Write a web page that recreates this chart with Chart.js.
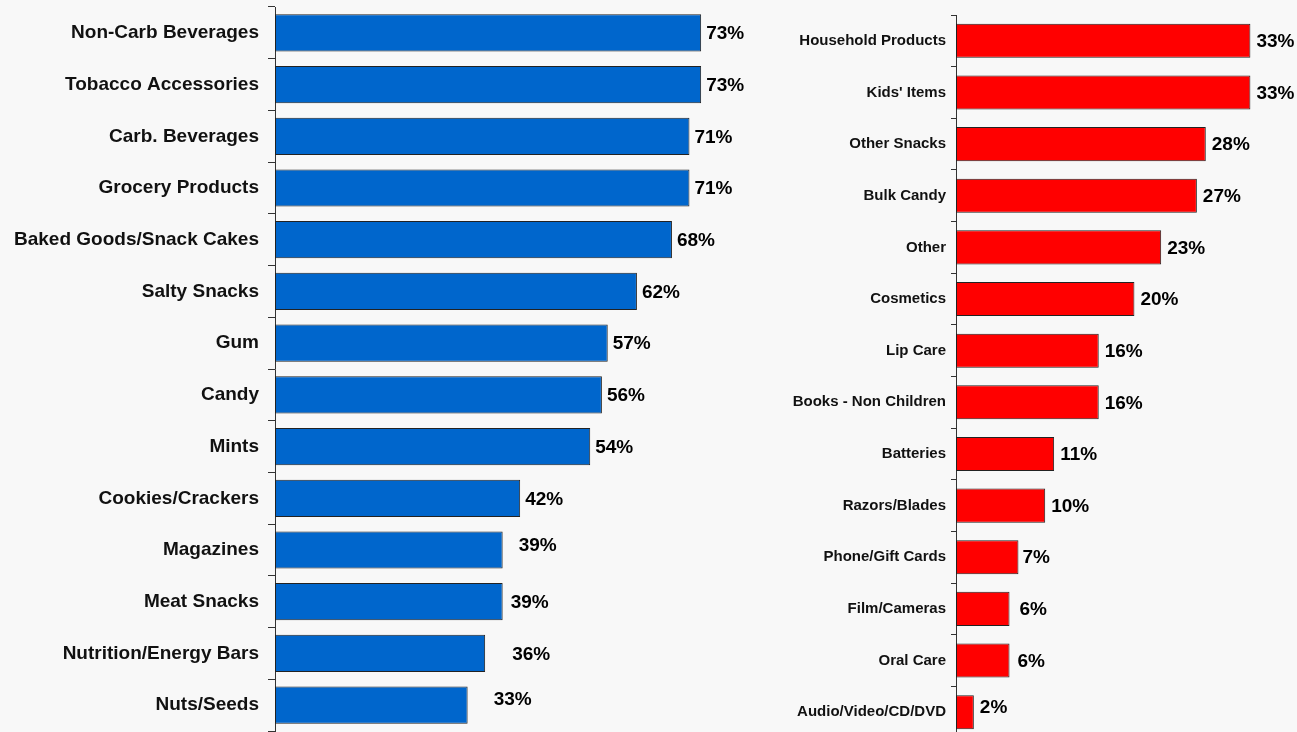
<!DOCTYPE html>
<html>
<head>
<meta charset="utf-8">
<script src="https://cdn.jsdelivr.net/npm/chart.js@4/dist/chart.umd.min.js"></script>
<style>
  html, body { margin: 0; padding: 0; background: #f8f8f8; overflow: hidden; }
  body { width: 1297px; height: 732px; position: relative; }
  .box { position: absolute; }
  #leftBox { left: 0; top: 0; width: 745px; height: 732px; }
  #rightBox { left: 760px; top: 0; width: 537px; height: 740px; }
</style>
</head>
<body>
<div class="box" id="leftBox"><canvas id="leftChart"></canvas></div>
<div class="box" id="rightBox"><canvas id="rightChart"></canvas></div>
<script>
const leftCategories = [
  'Non-Carb Beverages', 'Tobacco Accessories', 'Carb. Beverages', 'Grocery Products',
  'Baked Goods/Snack Cakes', 'Salty Snacks', 'Gum', 'Candy', 'Mints',
  'Cookies/Crackers', 'Magazines', 'Meat Snacks', 'Nutrition/Energy Bars', 'Nuts/Seeds'
];
const leftValues = [73, 73, 71, 71, 68, 62, 57, 56, 54, 42, 39, 39, 36, 33];

const rightCategories = [
  'Household Products', "Kids' Items", 'Other Snacks', 'Bulk Candy', 'Other',
  'Cosmetics', 'Lip Care', 'Books - Non Children', 'Batteries', 'Razors/Blades',
  'Phone/Gift Cards', 'Film/Cameras', 'Oral Care', 'Audio/Video/CD/DVD'
];
const rightValues = [33, 33, 28, 27, 23, 20, 16, 16, 11, 10, 7, 6, 6, 2];

// hand-placed label nudges (px) on top of the default gap after each bar
const leftNudgeX = [0, 0, 0, 0, 0, 0, 0, 0, 0, 0, 11, 3, 22, 21];
const leftNudgeY = [0, 0, 0, 0, 0, 0, 0, 0, 0, 0, -5, 0, 0, -6];
const rightNudgeX = [0, 0, 0, 0, 0, 0, 0, 0, 0, 0, -2, 4, 2, 0];
const rightNudgeY = [0, 0, 0, 0, 0, 0, 0, 0, 0, 0, 0, 0, 0, -5];

const FONT = '"Liberation Sans", Arial, Helvetica, sans-serif';

// draws "NN%" to the right of every bar
const valueLabels = {
  id: 'valueLabels',
  afterDatasetsDraw(chart, args, opts) {
    const ctx = chart.ctx;
    const meta = chart.getDatasetMeta(0);
    const values = chart.data.datasets[0].data;
    ctx.save();
    ctx.font = 'bold ' + opts.size + 'px ' + FONT;
    ctx.fillStyle = '#000';
    ctx.textAlign = 'left';
    ctx.textBaseline = 'middle';
    meta.data.forEach((bar, i) => {
      const x = bar.x + opts.gap + (opts.dx[i] || 0);
      const y = bar.y + 1 + (opts.dy[i] || 0);
      ctx.fillText(values[i] + '%', x, y);
    });
    ctx.restore();
  }
};

function makeChart(id, labels, values, color, cfg) {
  const ctx = document.getElementById(id).getContext('2d');
  return new Chart(ctx, {
    type: 'bar',
    data: {
      labels: labels,
      datasets: [{
        data: values,
        backgroundColor: color,
        borderColor: '#222',
        borderWidth: 1,
        borderSkipped: false,
        barPercentage: cfg.barPct,
        categoryPercentage: 1
      }]
    },
    options: {
      indexAxis: 'y',
      responsive: true,
      maintainAspectRatio: false,
      animation: false,
      layout: { padding: cfg.padding },
      plugins: {
        legend: { display: false },
        tooltip: { enabled: false },
        valueLabels: { size: 19, gap: cfg.gap, dx: cfg.dx, dy: cfg.dy }
      },
      scales: {
        x: { display: false, min: 0, max: cfg.max },
        y: {
          // fixed axis width, and no extra room reserved above/below for labels
          afterFit: scale => {
            scale.width = cfg.axisWidth;
            scale.paddingTop = 0;
            scale.paddingBottom = 0;
          },
          grid: {
            drawOnChartArea: false,
            drawTicks: true,
            tickLength: cfg.tickLength,
            color: '#333',
            offset: true
          },
          border: { display: true, color: '#333', width: 1 },
          ticks: {
            padding: cfg.labelPad,
            color: '#111',
            font: { family: FONT, weight: 'bold', size: cfg.labelSize }
          }
        }
      }
    },
    plugins: [valueLabels]
  });
}

makeChart('leftChart', leftCategories, leftValues, '#0066cc', {
  barPct: 0.72, max: 80, axisWidth: 275, tickLength: 7, labelPad: 9, labelSize: 19,
  padding: { top: 7, bottom: 1, left: 0, right: 3 },
  gap: 5, dx: leftNudgeX, dy: leftNudgeY
});

makeChart('rightChart', rightCategories, rightValues, '#ff0000', {
  barPct: 0.66, max: 38, axisWidth: 196, tickLength: 5, labelPad: 5, labelSize: 15,
  padding: { top: 15, bottom: 2, left: 0, right: 2 },
  gap: 6, dx: rightNudgeX, dy: rightNudgeY
});
</script>
</body>
</html>
